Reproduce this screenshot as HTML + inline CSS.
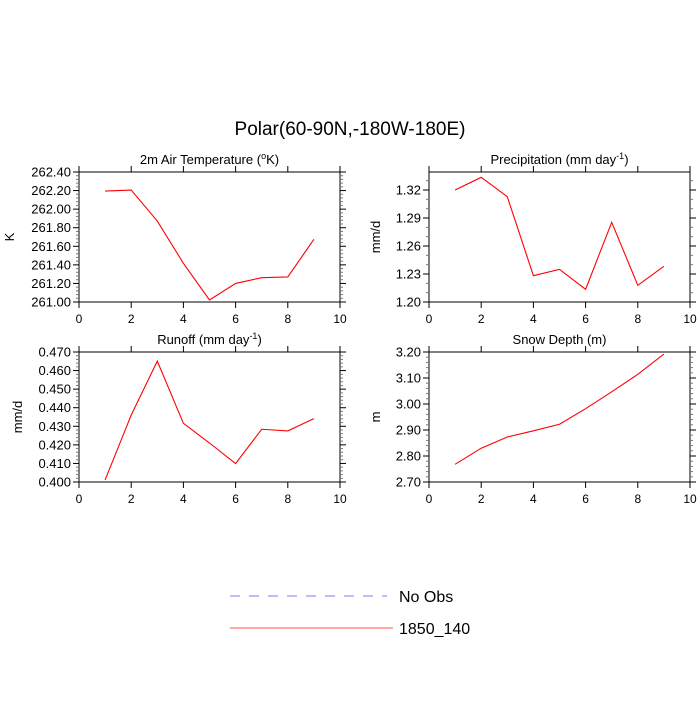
<!DOCTYPE html>
<html><head><meta charset="utf-8"><style>
html,body{margin:0;padding:0;background:#fff}
svg text{font-family:"Liberation Sans",sans-serif;fill:#000}
</style></head><body>
<svg id="chart" width="700" height="700" xmlns="http://www.w3.org/2000/svg">
<text x="350" y="135" font-size="19" text-anchor="middle">Polar(60-90N,-180W-180E)</text>
<g>
<line x1="230" y1="596" x2="387" y2="596" stroke="#7a7aff" stroke-width="1" stroke-dasharray="10,9"/>
<text x="399" y="602" font-size="16">No Obs</text>
<line x1="230" y1="628" x2="393" y2="628" stroke="#ff5050" stroke-width="1"/>
<text x="399" y="634" font-size="16">1850_140</text>
</g>
</svg>
<script>
const xValues=[1,2,3,4,5,6,7,8,9];
const xTicks=[0,2,4,6,8,10];
const tempValues=[262.195,262.206,261.872,261.417,261.022,261.2,261.262,261.27,261.675];
const tempTicks=["261.00","261.20","261.40","261.60","261.80","262.00","262.20","262.40"];
const precipValues=[1.32,1.3336,1.3128,1.2282,1.235,1.2136,1.2854,1.2179,1.2382];
const precipTicks=["1.20","1.23","1.26","1.29","1.32"];
const runoffValues=[0.4011,0.436,0.4651,0.4316,0.421,0.4099,0.4284,0.4275,0.4341];
const runoffTicks=["0.400","0.410","0.420","0.430","0.440","0.450","0.460","0.470"];
const snowValues=[2.768,2.83,2.873,2.897,2.922,2.982,3.047,3.114,3.192];
const snowTicks=["2.70","2.80","2.90","3.00","3.10","3.20"];
const svg=document.getElementById('chart');
const NS='http://www.w3.org/2000/svg';
function mk(tag,attrs,parent){const e=document.createElementNS(NS,tag);for(const k in attrs)e.setAttribute(k,attrs[k]);parent.appendChild(e);return e;}
function panel(name,x0,y0,w,h,title,ylab,ylabOff,ticks,ymin,ymax,minorN,vals){
 const g=mk('g',{},svg);
 
 
 const sx=v=>x0+v/10*w;
 const sy=v=>y0+h-(v-ymin)/(ymax-ymin)*h;
 const t=mk('text',{x:x0+w/2,y:y0-8,'font-size':13,'text-anchor':'middle'},g);
 
 
 t.innerHTML=title;
 const yl=mk('text',{x:0,y:0,'font-size':13,'text-anchor':'middle',transform:`translate(${x0-ylabOff},${y0+h/2}) rotate(-90)`},g);
 
 
 yl.textContent=ylab;
 const r=mk('rect',{x:x0,y:y0,width:w,height:h,fill:'none',stroke:'#000','stroke-width':1},g);
 
 
 xTicks.forEach(v=>{
  const X=sx(v);
  mk('line',{x1:X,y1:y0+h,x2:X,y2:y0+h+6,stroke:'#000'},g);
  mk('line',{x1:X,y1:y0,x2:X,y2:y0-6,stroke:'#000'},g);
  const l=mk('text',{x:X,y:y0+h+21,'font-size':12,'text-anchor':'middle'},g);
  
  
  l.textContent=v;
 });
 const t0=parseFloat(ticks[0]);
 const step=parseFloat(ticks[1])-t0;
 for(let i=-1;i<ticks.length+2;i++){
  const v=t0+i*step;
  if(i>=0&&i<ticks.length){
   const Y=sy(v);
   mk('line',{x1:x0,y1:Y,x2:x0-6,y2:Y,stroke:'#000'},g);
   mk('line',{x1:x0+w,y1:Y,x2:x0+w+6,y2:Y,stroke:'#000'},g);
   const l=mk('text',{x:x0-8,y:Y+4.5,'font-size':13,'text-anchor':'end'},g);
   
   
   l.textContent=ticks[i];
  }
  for(let k=1;k<minorN;k++){
   const vv=v+k*step/minorN;
   if(vv>ymax+1e-9||vv<ymin-1e-9)continue;
   const YY=sy(vv);
   mk('line',{x1:x0,y1:YY,x2:x0-3,y2:YY,stroke:'#777'},g);
   mk('line',{x1:x0+w,y1:YY,x2:x0+w+3,y2:YY,stroke:'#777'},g);
  }
 }
 const pts=vals.map((v,i)=>sx(xValues[i])+','+sy(v)).join(' ');
 const p=mk('polyline',{points:pts,fill:'none',stroke:'#ff0000','stroke-width':1.1},g);
 
 
}
panel('temperature',79,172,261,130,'2m Air Temperature (<tspan font-size="9" dy="-5">o</tspan><tspan dy="5">K)</tspan>','K',65,tempTicks,261.0,262.4,5,tempValues);
panel('precipitation',429,172,261,130,'Precipitation (mm day<tspan font-size="9" dy="-5">-1</tspan><tspan dy="5">)</tspan>','mm/d',49,precipTicks,1.20,1.3393,3,precipValues);
panel('runoff',79,352,261,130,'Runoff (mm day<tspan font-size="9" dy="-5">-1</tspan><tspan dy="5">)</tspan>','mm/d',57,runoffTicks,0.40,0.47,5,runoffValues);
panel('snow-depth',429,352,261,130,'Snow Depth (m)','m',49,snowTicks,2.70,3.20,5,snowValues);
</script>
</body></html>
